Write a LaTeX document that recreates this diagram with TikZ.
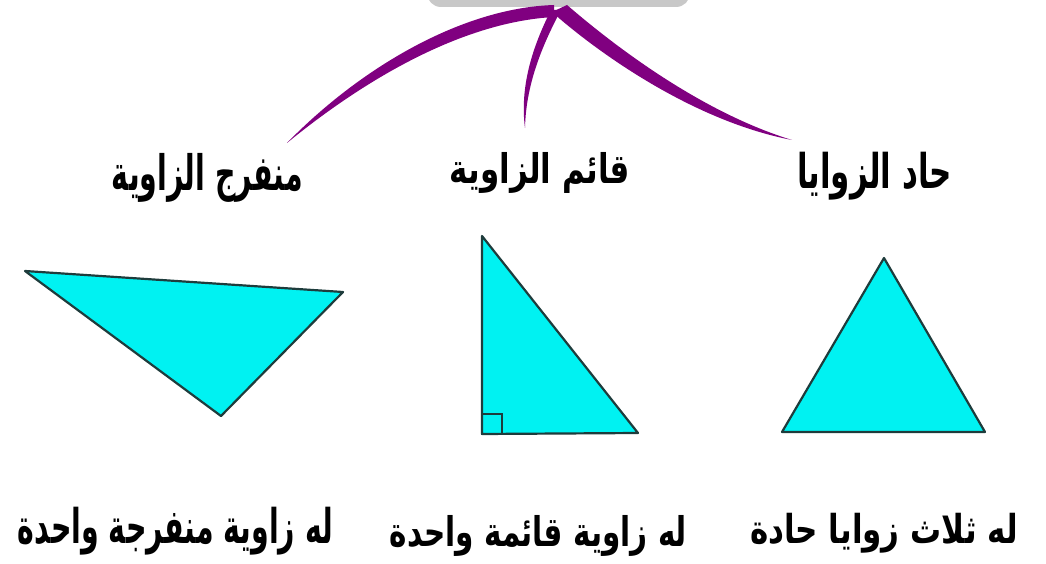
\documentclass[tikz,border=0pt]{standalone}
\usepackage{fontspec}
\usepackage{graphicx}
\TeXXeTstate=1
\newfontfamily\arabicfont[Script=Arabic]{DejaVu Sans}
\definecolor{branch}{HTML}{800080}
\definecolor{tri}{HTML}{00F2F2}
\definecolor{triedge}{HTML}{1E3C3C}
\definecolor{hubgrey}{HTML}{C8C8C8}
\newcommand{\artext}[3]{\resizebox*{#1pt}{#2pt}{\arabicfont\bfseries #3}}
\tikzset{
  lbl/.style={inner sep=0pt, outer sep=0pt, text=black},
  hub/.style={draw=none, fill=hubgrey, rounded corners=14pt, inner sep=0pt, minimum width=263pt, minimum height=50pt},
  branchfill/.style={fill=branch, draw=none},
  triangle/.style={fill=tri, draw=triedge, line width=2.2pt, line join=round},
}
\begin{document}
\begin{tikzpicture}[x=1pt,y=-1pt]
\useasboundingbox (0,0) rectangle (1046,564);
\clip (0,0) rectangle (1046,564);
% hub box (cut by the top edge)
\node[hub] (root) at (558.5,-18) {};
% labels
\node[lbl] (l1) at (207.5,177.5) {\artext{191}{49}{\beginR منفرج الزاوية\endR}};
\node[lbl] (l2) at (540,172.5) {\artext{180}{41}{\beginR قائم الزاوية\endR}};
\node[lbl] (l3) at (874.5,176) {\artext{155}{48}{\beginR حاد الزوايا\endR}};
\node[lbl] (d1) at (175.5,531) {\artext{315}{48}{\beginR له زاوية منفرجة واحدة\endR}};
\node[lbl] (d2) at (538.5,535.5) {\artext{297}{41}{\beginR له زاوية قائمة واحدة\endR}};
\node[lbl] (d3) at (884,533) {\artext{268}{40}{\beginR له ثلاث زوايا حادة\endR}};
% branch ends
\coordinate (h) at (root.south);
\coordinate (e1) at (287,143);
\coordinate (e2) at (525,128);
\coordinate (e3) at (792,140);
% tapered branches
\fill[branchfill] (554,5) .. controls (460,8) and (358,70) .. (e1)
  .. controls (364,80) and (462,22) .. (554,17) -- cycle;
\fill[branchfill] (551,10) .. controls (536,40) and (519,82) .. (e2)
  .. controls (526,82) and (544,42) .. (561,10) -- cycle;
\fill[branchfill] (567,5) .. controls (603,36) and (694,110) .. (e3)
  .. controls (688,120) and (590,46) .. (552,12) -- cycle;
% triangles
\draw[triangle] (25,271) -- (343,292) -- (221,416) -- cycle;
\draw[triangle] (482,236) -- (482,434) -- (638,433) -- cycle;
\draw[triedge, line width=1.8pt] (482,414) -- (502,414) -- (502,434);
\draw[triangle] (884,258) -- (782,432) -- (985,432) -- cycle;
\end{tikzpicture}
\end{document}
